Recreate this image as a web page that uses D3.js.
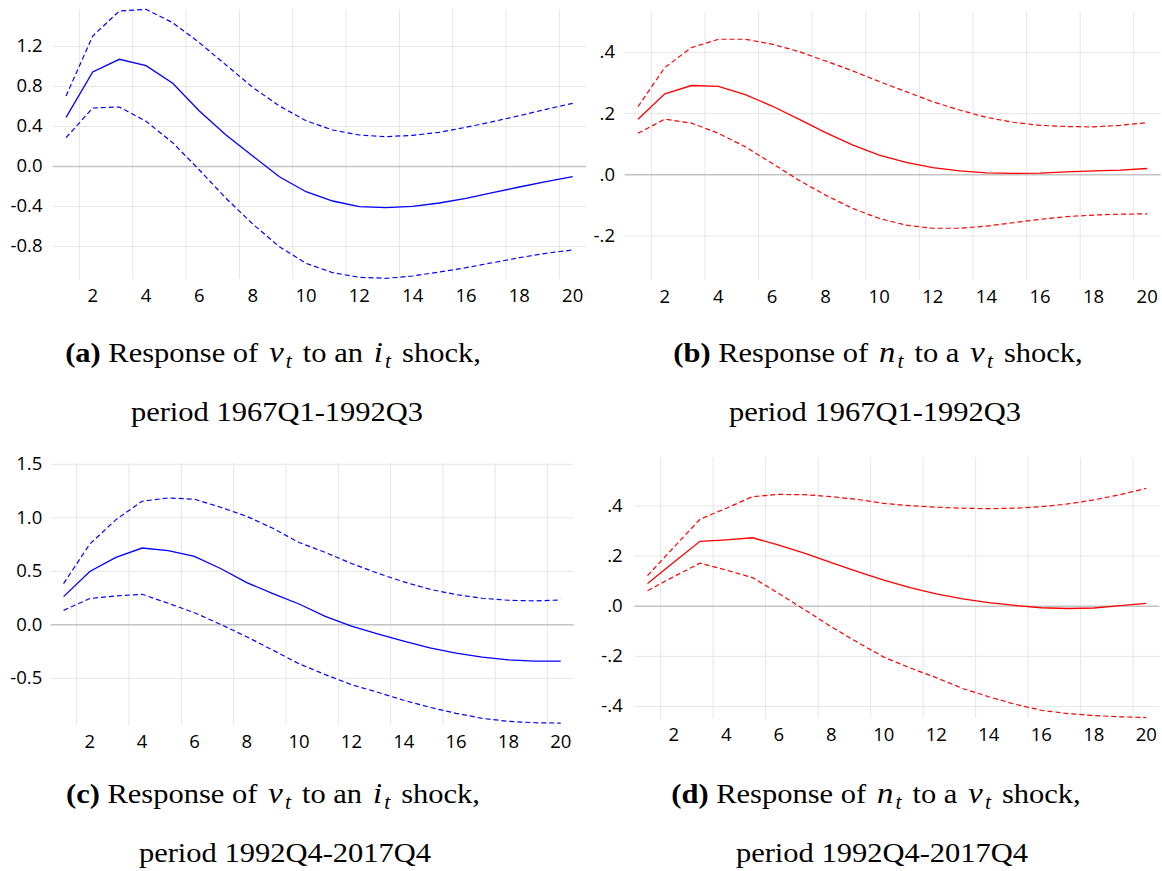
<!DOCTYPE html>
<html>
<head>
<meta charset="utf-8">
<script src="https://cdn.jsdelivr.net/npm/d3@7/dist/d3.min.js"></script>
<style>
  body { margin: 0; background: #fff; }
  svg { display: block; }
</style>
</head>
<body>
<svg></svg>
<script>
// horizon (quarters) and the labelled ones
const periods = [1, 2, 3, 4, 5, 6, 7, 8, 9, 10, 11, 12, 13, 14, 15, 16, 17, 18, 19, 20];
const xTickLabels = [2, 4, 6, 8, 10, 12, 14, 16, 18, 20];

// (a) response of v to an i shock, 1967Q1-1992Q3
const aIrf   = [0.487, 0.94, 1.067, 1.003, 0.827, 0.55, 0.31, 0.10, -0.107, -0.257, -0.35, -0.407, -0.417, -0.403, -0.37, -0.323, -0.267, -0.21, -0.157, -0.107];
const aUpper = [0.70, 1.30, 1.55, 1.567, 1.433, 1.233, 1.01, 0.787, 0.60, 0.453, 0.36, 0.31, 0.293, 0.307, 0.337, 0.387, 0.443, 0.503, 0.567, 0.627];
const aLower = [0.283, 0.58, 0.59, 0.447, 0.233, -0.04, -0.323, -0.58, -0.807, -0.973, -1.067, -1.113, -1.123, -1.10, -1.06, -1.017, -0.967, -0.917, -0.873, -0.84];
const aTicks = [-0.8, -0.4, 0.0, 0.4, 0.8, 1.2];

// (b) response of n to a v shock, 1967Q1-1992Q3
const bIrf   = [0.18, 0.263, 0.29, 0.287, 0.26, 0.223, 0.18, 0.136, 0.096, 0.063, 0.039, 0.022, 0.011, 0.005, 0.003, 0.004, 0.008, 0.011, 0.014, 0.019];
const bUpper = [0.221, 0.349, 0.414, 0.441, 0.441, 0.425, 0.401, 0.37, 0.338, 0.303, 0.27, 0.237, 0.21, 0.186, 0.17, 0.16, 0.156, 0.155, 0.16, 0.169];
const bLower = [0.134, 0.18, 0.167, 0.134, 0.09, 0.036, -0.019, -0.068, -0.111, -0.144, -0.166, -0.176, -0.176, -0.169, -0.158, -0.147, -0.138, -0.133, -0.13, -0.129];
const bTicks = [-0.2, 0.0, 0.2, 0.4];

// (c) response of v to an i shock, 1992Q4-2017Q4
const cIrf   = [0.259, 0.494, 0.625, 0.713, 0.688, 0.634, 0.522, 0.39, 0.288, 0.19, 0.075, -0.016, -0.088, -0.156, -0.219, -0.269, -0.306, -0.331, -0.344, -0.344];
const cUpper = [0.381, 0.75, 0.978, 1.15, 1.181, 1.169, 1.094, 1.009, 0.897, 0.765, 0.672, 0.569, 0.478, 0.397, 0.328, 0.278, 0.244, 0.225, 0.219, 0.228];
const cLower = [0.131, 0.241, 0.266, 0.281, 0.197, 0.109, 0.0, -0.116, -0.241, -0.368, -0.469, -0.563, -0.634, -0.709, -0.775, -0.831, -0.878, -0.906, -0.919, -0.922];
const cTicks = [-0.5, 0.0, 0.5, 1.0, 1.5];

// (d) response of n to a v shock, 1992Q4-2017Q4
const dIrf   = [0.089, 0.173, 0.257, 0.263, 0.271, 0.242, 0.209, 0.172, 0.136, 0.102, 0.072, 0.047, 0.027, 0.012, 0.001, -0.008, -0.011, -0.009, 0.0, 0.009];
const dUpper = [0.12, 0.233, 0.345, 0.389, 0.435, 0.444, 0.443, 0.435, 0.424, 0.408, 0.399, 0.393, 0.389, 0.387, 0.389, 0.395, 0.406, 0.422, 0.443, 0.468];
const dLower = [0.06, 0.116, 0.17, 0.142, 0.112, 0.049, -0.017, -0.084, -0.146, -0.205, -0.248, -0.287, -0.33, -0.363, -0.393, -0.417, -0.43, -0.438, -0.443, -0.446];
const dTicks = [-0.4, -0.2, 0.0, 0.2, 0.4];

const svg = d3.select('svg')
    .attr('width', 1162)
    .attr('height', 871);

// plain hyphen for the minus sign, like the original
const locale = d3.formatLocale({decimal: '.', thousands: ',', grouping: [3], currency: ['', ''], minus: '-'});
const fmtFull = locale.format('.1f');
// eviews style ".4" / "-.2"
const fmtShort = v => fmtFull(v).replace(/^(-?)0\./, '$1.');

const tickFont = '"Open Sans", Lato, sans-serif';

const panels = [
    {irf: aIrf, up: aUpper, lo: aLower, ticks: aTicks, fmt: fmtFull, color: '#0000ff',
     box: {l: 52.7, r: 586, t: 9.3, b: 279.3}, dom: [-1.133, 1.567], labelX: 42.5},
    {irf: bIrf, up: bUpper, lo: bLower, ticks: bTicks, fmt: fmtShort, color: '#ff0000',
     box: {l: 624.6, r: 1160.6, t: 11.7, b: 280}, dom: [-0.345, 0.531], labelX: 615},
    {irf: cIrf, up: cUpper, lo: cLower, ticks: cTicks, fmt: fmtFull, color: '#0000ff',
     box: {l: 50.5, r: 573.8, t: 462.7, b: 725}, dom: [-0.94, 1.51], labelX: 42.3},
    {irf: dIrf, up: dUpper, lo: dLower, ticks: dTicks, fmt: fmtShort, color: '#ff0000',
     box: {l: 634.4, r: 1159.4, t: 457.3, b: 718.3}, dom: [-0.449, 0.592], labelX: 622.7}
];

panels.forEach(drawPanel);

function drawPanel(p) {
    const g = svg.append('g').classed('panel', true);
    const bx = p.box;

    let x = d3.scaleBand()
        .domain(periods)
        .range([bx.l, bx.r]);
    let y = d3.scaleLinear()
        .domain(p.dom)
        .range([bx.b, bx.t]);

    // vertical gridlines sit on the left edge of each even period
    g.selectAll('line.vgrid')
        .data(xTickLabels)
        .enter()
        .append('line')
        .attr('class', 'vgrid')
        .attr('x1', d => x(d)).attr('x2', d => x(d))
        .attr('y1', bx.t).attr('y2', bx.b)
        .attr('stroke', '#e6e6e6')
        .attr('stroke-width', 1);

    // y axis with gridlines running across
    let yAxis = d3.axisLeft(y)
        .tickValues(p.ticks)
        .tickSize(-(bx.r - bx.l))
        .tickPadding(bx.l - p.labelX)
        .tickFormat(p.fmt);
    let yG = g.append('g')
        .attr('transform', `translate(${bx.l},0)`)
        .call(yAxis);
    yG.select('.domain').remove();
    yG.selectAll('.tick line')
        .attr('stroke', d => d === 0 ? '#c4c4c4' : '#e6e6e6')
        .attr('stroke-width', d => d === 0 ? 1.5 : 1);
    yG.selectAll('.tick text')
        .attr('fill', '#000')
        .style('font-family', tickFont)
        .style('font-size', '18.5px');

    // x axis: labels centred on the periods, no tick marks
    let xAxis = d3.axisBottom(x)
        .tickValues(xTickLabels)
        .tickSize(0)
        .tickPadding(10);
    let xG = g.append('g')
        .attr('transform', `translate(0,${bx.b})`)
        .call(xAxis);
    xG.select('.domain').remove();
    xG.selectAll('.tick text')
        .attr('fill', '#000')
        .style('font-family', tickFont)
        .style('font-size', '18.5px');

    let line = d3.line()
        .x((d, i) => x(periods[i]) + x.bandwidth() / 2)
        .y(d => y(d));

    [p.up, p.lo].forEach(band => {
        g.append('path')
            .attr('d', line(band))
            .attr('fill', 'none')
            .attr('stroke', p.color)
            .attr('stroke-width', 1.2)
            .attr('stroke-dasharray', '5,3');
    });
    g.append('path')
        .attr('d', line(p.irf))
        .attr('fill', 'none')
        .attr('stroke', p.color)
        .attr('stroke-width', 1.3);
}

// captions under each panel
const captions = [
    {tag: '(a)', resp: 'v', art: 'an', shock: 'i', period: 'period 1967Q1-1992Q3', cx1: 273, cx2: 277, y1: 362, y2: 421},
    {tag: '(b)', resp: 'n', art: 'a', shock: 'v', period: 'period 1967Q1-1992Q3', cx1: 878, cx2: 875, y1: 362, y2: 421},
    {tag: '(c)', resp: 'v', art: 'an', shock: 'i', period: 'period 1992Q4-2017Q4', cx1: 273, cx2: 285, y1: 803, y2: 862},
    {tag: '(d)', resp: 'n', art: 'a', shock: 'v', period: 'period 1992Q4-2017Q4', cx1: 876, cx2: 882, y1: 803, y2: 862}
];

const serif = '"Liberation Serif", "Times New Roman", serif';

captions.forEach(c => {
    let l1 = svg.append('g')
        .attr('transform', `translate(${c.cx1},${c.y1}) scale(1.09,1)`)
        .append('text')
        .attr('text-anchor', 'middle')
        .style('font-family', serif)
        .style('font-size', '28px')
        .attr('fill', '#000');
    l1.append('tspan').style('font-weight', 'bold').text(c.tag);
    l1.append('tspan').text(' Response of ');
    l1.append('tspan').style('font-style', 'italic').style('font-size', '30px').attr('dx', 3).text(c.resp);
    l1.append('tspan').style('font-style', 'italic').style('font-size', '20px').attr('dy', 6).attr('dx', 2).text('t');
    l1.append('tspan').attr('dy', -6).attr('dx', 3).text(' to ' + c.art + ' ');
    l1.append('tspan').style('font-style', 'italic').style('font-size', '30px').attr('dx', 3).text(c.shock);
    l1.append('tspan').style('font-style', 'italic').style('font-size', '20px').attr('dy', 6).attr('dx', 2).text('t');
    l1.append('tspan').attr('dy', -6).attr('dx', 3).text(' shock,');

    svg.append('g')
        .attr('transform', `translate(${c.cx2},${c.y2}) scale(1.09,1)`)
        .append('text')
        .attr('text-anchor', 'middle')
        .style('font-family', serif)
        .style('font-size', '28px')
        .attr('fill', '#000')
        .text(c.period);
});
</script>
</body>
</html>
